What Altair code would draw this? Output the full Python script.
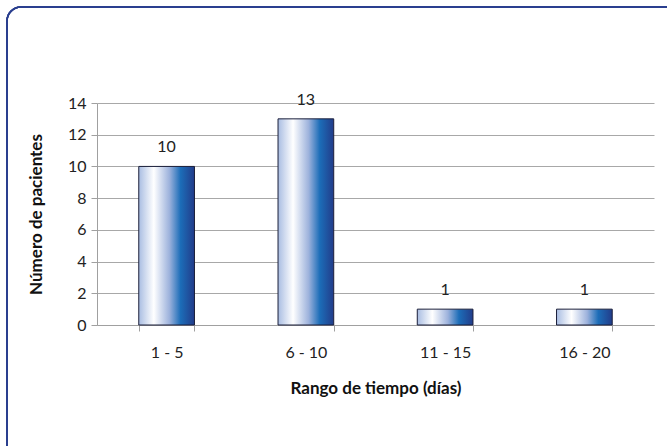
import altair as alt
import pandas as pd

categories = ["1 - 5", "6 - 10", "11 - 15", "16 - 20"]
pacientes = [10, 13, 1, 1]
y_ticks = [0, 2, 4, 6, 8, 10, 12, 14]

df = pd.DataFrame({"rango": categories, "n": pacientes})

FONT = "Lato"

grad = alt.Gradient(
    gradient="linear", x1=0, x2=1, y1=0, y2=0,
    stops=[
        alt.GradientStop(color="#A9BDE2", offset=0.0),
        alt.GradientStop(color="#FFFFFF", offset=0.27),
        alt.GradientStop(color="#9DB2DC", offset=0.55),
        alt.GradientStop(color="#1C6DB8", offset=0.75),
        alt.GradientStop(color="#223C8A", offset=1.0),
    ],
)

x_enc = alt.X(
    "rango:N", sort=categories,
    scale=alt.Scale(paddingInner=0.6, paddingOuter=0.3),
    axis=alt.Axis(
        title="Rango de tiempo (días)", labelAngle=0, tickBand="extent",
        domainColor="#A0A0A0", tickColor="#A0A0A0", tickSize=6,
        labelFontSize=16, labelFont=FONT, labelColor="#222222", labelPadding=13,
        titleFontSize=17, titleFont=FONT, titleFontWeight="bold", titleColor="#111111",
        titlePadding=20,
    ),
)

y_enc = alt.Y(
    "n:Q",
    scale=alt.Scale(domain=[0, 14], nice=False),
    axis=alt.Axis(
        title="Número de pacientes", values=y_ticks, labelOverlap=False,
        domainColor="#A0A0A0", tickColor="#A0A0A0", tickSize=6,
        gridColor="#A8A8A8", gridWidth=1,
        labelFontSize=16, labelFont=FONT, labelColor="#222222", labelPadding=5,
        titleFontSize=17, titleFont=FONT, titleFontWeight="bold", titleColor="#111111",
        titlePadding=22,
    ),
)

border = alt.Chart(df).mark_rect(
    filled=False, fillOpacity=0, stroke="#2A3F8F", strokeWidth=1.5, cornerRadius=14
).encode(
    x=alt.value(-90), x2=alt.value(590), y=alt.value(-96), y2=alt.value(360)
)

bars = alt.Chart(df).mark_bar(
    color=grad, stroke="#1B1F3A", strokeWidth=1
).encode(x=x_enc, y=y_enc)

labels = alt.Chart(df).mark_text(
    baseline="middle", dy=-19, fontSize=16, font=FONT, color="#222222"
).encode(
    x=x_enc,
    y=y_enc,
    text="n:Q",
)

chart = alt.layer(border, bars, labels).properties(
    width=557, height=222,
    autosize=alt.AutoSizeParams(type="none"),
    padding={"left": 97, "top": 103, "right": 13, "bottom": 121},
    background="white",
).configure_view(stroke=None)

chart.save("out.html", embed_options={"renderer": "svg", "actions": False})
